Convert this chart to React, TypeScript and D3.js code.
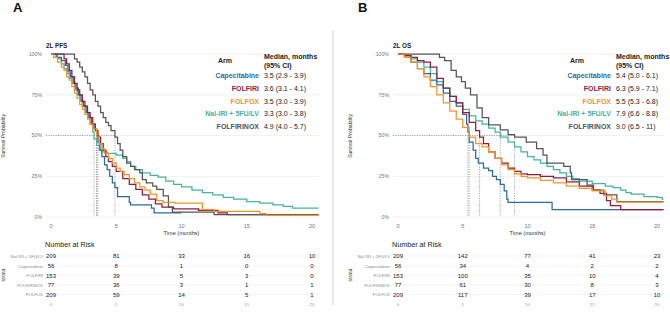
import React from 'react';
import * as d3 from 'd3';

type Pt = [number, number];

// arms, in the order the risk table lists them
const arms = ['Nal-IRI + 5FU/LV', 'Capecitabine', 'FOLFIRI', 'FOLFIRINOX', 'FOLFOX'];
const legendOrder = ['Capecitabine', 'FOLFIRI', 'FOLFOX', 'Nal-IRI + 5FU/LV', 'FOLFIRINOX'];
const armColors: Record<string, string> = {
  Capecitabine: '#2e6a9c',
  FOLFIRI: '#941b3d',
  FOLFOX: '#f0952c',
  'Nal-IRI + 5FU/LV': '#46b49f',
  FOLFIRINOX: '#555555',
};

const riskTimes = [0, 5, 10, 15, 20];
const yTicks = [0, 0.25, 0.5, 0.75, 1];

// 2L PFS
const pfsNalIri: Pt[] = [[0, 1], [0.5, 0.97], [0.8, 0.94], [1.0, 0.91], [1.2, 0.88], [1.4, 0.85], [1.6, 0.82], [1.8, 0.78], [2.0, 0.75], [2.2, 0.72], [2.4, 0.68], [2.6, 0.65], [2.8, 0.62], [3.0, 0.57], [3.2, 0.52], [3.3, 0.48], [3.5, 0.44], [3.7, 0.41], [3.9, 0.4], [4.3, 0.39], [5.0, 0.38], [5.5, 0.36], [5.8, 0.34], [6.1, 0.31], [6.5, 0.29], [7.0, 0.27], [7.6, 0.255], [8.2, 0.245], [8.8, 0.22], [9.4, 0.2], [10.0, 0.185], [10.8, 0.165], [11.6, 0.15], [12.4, 0.135], [13.2, 0.12], [14.0, 0.11], [15.0, 0.095], [16.0, 0.085], [17.0, 0.075], [17.8, 0.065], [18.5, 0.055], [20.5, 0.055]];
const pfsCapecitabine: Pt[] = [[0, 1], [0.4, 0.98], [0.8, 0.96], [1.1, 0.93], [1.3, 0.89], [1.5, 0.86], [1.7, 0.82], [1.9, 0.79], [2.1, 0.75], [2.3, 0.71], [2.5, 0.68], [2.7, 0.64], [2.9, 0.61], [3.1, 0.57], [3.3, 0.54], [3.5, 0.5], [3.6, 0.46], [3.75, 0.41], [3.9, 0.37], [4.1, 0.32], [4.3, 0.29], [4.5, 0.25], [4.7, 0.21], [4.9, 0.18], [5.1, 0.125], [6.0, 0.09], [6.1, 0.075], [7.7, 0.055], [7.9, 0.025], [10.0, 0.025]];
const pfsFolfiri: Pt[] = [[0, 1], [0.8, 1], [1.0, 0.97], [1.2, 0.94], [1.4, 0.9], [1.6, 0.86], [1.8, 0.82], [2.0, 0.78], [2.2, 0.75], [2.4, 0.71], [2.6, 0.68], [2.8, 0.64], [3.0, 0.61], [3.2, 0.57], [3.4, 0.53], [3.6, 0.49], [3.8, 0.45], [4.0, 0.41], [4.2, 0.37], [4.4, 0.34], [4.7, 0.31], [5.0, 0.28], [5.5, 0.235], [6.0, 0.2], [6.5, 0.17], [7.0, 0.135], [7.5, 0.11], [8.0, 0.08], [8.5, 0.06], [9.4, 0.05], [11.3, 0.04], [12.8, 0.025], [13.5, 0.015], [20.5, 0.015]];
const pfsFolfirinox: Pt[] = [[0, 1], [1.7, 1], [1.8, 0.97], [2.0, 0.95], [2.2, 0.92], [2.4, 0.89], [2.6, 0.86], [2.8, 0.82], [3.0, 0.78], [3.2, 0.75], [3.4, 0.71], [3.6, 0.68], [3.8, 0.64], [4.0, 0.61], [4.2, 0.58], [4.4, 0.56], [4.6, 0.53], [4.9, 0.49], [5.1, 0.45], [5.3, 0.41], [5.5, 0.37], [5.8, 0.33], [6.1, 0.31], [6.4, 0.29], [6.8, 0.27], [7.0, 0.23], [7.3, 0.21], [7.8, 0.19], [8.1, 0.17], [8.6, 0.13], [9.0, 0.06], [9.3, 0.03], [12.5, 0.015], [20.5, 0.015]];
const pfsFolfox: Pt[] = [[0, 1], [0.2, 0.98], [0.5, 0.95], [0.8, 0.92], [1.0, 0.9], [1.2, 0.86], [1.4, 0.84], [1.6, 0.8], [1.8, 0.76], [2.0, 0.73], [2.2, 0.69], [2.4, 0.66], [2.6, 0.63], [2.8, 0.6], [3.0, 0.57], [3.2, 0.54], [3.5, 0.49], [3.7, 0.45], [3.9, 0.42], [4.1, 0.39], [4.4, 0.36], [4.7, 0.33], [5.0, 0.3], [5.3, 0.28], [5.6, 0.26], [6.0, 0.235], [6.4, 0.21], [6.8, 0.185], [7.2, 0.165], [7.6, 0.14], [8.1, 0.1], [8.6, 0.09], [9.5, 0.085], [11.6, 0.045], [12.5, 0.035], [16.0, 0.02], [16.5, 0.01], [20.5, 0.01]];

// 2L OS
const osNalIri: Pt[] = [[0, 1], [0.5, 0.99], [1.0, 0.97], [1.5, 0.95], [2.0, 0.92], [2.5, 0.88], [3.0, 0.83], [3.5, 0.79], [4.0, 0.74], [4.5, 0.7], [5.0, 0.66], [5.5, 0.62], [6.0, 0.59], [6.5, 0.57], [7.0, 0.545], [7.5, 0.52], [7.9, 0.49], [8.5, 0.46], [9.0, 0.43], [9.5, 0.4], [10.0, 0.37], [10.5, 0.35], [11.0, 0.33], [11.5, 0.31], [12.0, 0.29], [12.5, 0.27], [13.0, 0.25], [13.5, 0.235], [14.0, 0.22], [15.0, 0.205], [16.0, 0.19], [16.6, 0.18], [17.2, 0.165], [17.6, 0.15], [18.0, 0.14], [19.0, 0.125], [20.0, 0.12], [20.4, 0.11], [20.5, 0.11]];
const osCapecitabine: Pt[] = [[0, 1], [0.5, 0.98], [1.0, 0.95], [1.5, 0.91], [2.0, 0.88], [2.5, 0.84], [3.0, 0.81], [3.5, 0.76], [4.0, 0.71], [4.5, 0.68], [5.0, 0.63], [5.3, 0.57], [5.4, 0.52], [5.5, 0.46], [5.8, 0.41], [6.0, 0.36], [6.2, 0.33], [6.6, 0.3], [7.0, 0.285], [7.3, 0.25], [7.6, 0.23], [7.9, 0.2], [8.2, 0.16], [8.4, 0.11], [8.5, 0.09], [11.9, 0.045], [20.5, 0.045]];
const osFolfiri: Pt[] = [[0, 1], [0.5, 0.99], [1.0, 0.98], [1.5, 0.96], [2.0, 0.95], [2.5, 0.92], [3.0, 0.85], [3.5, 0.79], [4.0, 0.74], [4.5, 0.7], [5.0, 0.64], [5.5, 0.58], [6.0, 0.53], [6.3, 0.49], [6.6, 0.45], [7.0, 0.4], [7.5, 0.36], [8.0, 0.33], [8.5, 0.3], [9.0, 0.28], [9.5, 0.265], [10.0, 0.26], [11.0, 0.25], [12.0, 0.24], [13.0, 0.215], [14.0, 0.19], [15.0, 0.165], [15.6, 0.145], [16.1, 0.1], [16.4, 0.07], [17.2, 0.045], [20.5, 0.045]];
const osFolfirinox: Pt[] = [[0, 1], [2.9, 1], [3.2, 0.98], [3.6, 0.96], [4.1, 0.9], [4.5, 0.86], [4.9, 0.83], [5.2, 0.79], [5.6, 0.75], [6.1, 0.67], [6.5, 0.61], [7.0, 0.565], [7.9, 0.535], [8.5, 0.505], [9.0, 0.49], [9.9, 0.46], [10.7, 0.42], [11.2, 0.38], [11.5, 0.33], [12.8, 0.31], [13.3, 0.27], [13.4, 0.23], [14.6, 0.195], [15.1, 0.165], [15.9, 0.135], [16.9, 0.094], [20.5, 0.094]];
const osFolfox: Pt[] = [[0, 1], [0.5, 0.98], [1.0, 0.95], [1.5, 0.91], [2.0, 0.86], [2.5, 0.8], [3.0, 0.75], [3.5, 0.7], [4.0, 0.65], [4.5, 0.6], [5.0, 0.55], [5.5, 0.49], [6.0, 0.45], [6.5, 0.43], [7.0, 0.4], [7.5, 0.36], [8.0, 0.32], [8.5, 0.29], [9.0, 0.265], [9.5, 0.25], [10.0, 0.24], [11.0, 0.225], [12.0, 0.21], [13.0, 0.19], [14.0, 0.175], [15.0, 0.16], [16.0, 0.13], [16.5, 0.11], [16.9, 0.092], [20.5, 0.092]];

// medians [arm, median, lower, upper]
const pfsMedians: [string, string][] = [['Capecitabine', '3.5 (2.9 - 3.9)'], ['FOLFIRI', '3.6 (3.1 - 4.1)'], ['FOLFOX', '3.5 (3.0 - 3.9)'], ['Nal-IRI + 5FU/LV', '3.3 (3.0 - 3.8)'], ['FOLFIRINOX', '4.9 (4.0 - 5.7)']];
const osMedians: [string, string][] = [['Capecitabine', '5.4 (5.0 - 6.1)'], ['FOLFIRI', '6.3 (5.9 - 7.1)'], ['FOLFOX', '5.5 (5.3 - 6.8)'], ['Nal-IRI + 5FU/LV', '7.9 (6.6 - 8.8)'], ['FOLFIRINOX', '9.0 (6.5 - 11)']];
const pfsMedianTimes = [3.5, 3.6, 3.5, 3.3, 4.9];
const osMedianTimes = [5.4, 6.3, 5.5, 7.9, 9.0];

// number at risk, rows follow `arms`
const pfsRisk = [[209, 81, 33, 16, 10], [56, 8, 1, 0, 0], [153, 39, 5, 3, 0], [77, 36, 3, 1, 1], [209, 59, 14, 5, 1]];
const osRisk = [[209, 142, 77, 41, 23], [56, 34, 4, 2, 2], [153, 100, 35, 10, 4], [77, 61, 30, 8, 3], [209, 117, 39, 17, 10]];

const FONT = '"Liberation Sans", Arial, Helvetica, sans-serif';

interface PanelProps {
  tag: string;
  title: string;
  left: number; // x of time 0
  right: number; // x of time 20
  tagX: number;
  curves: Pt[][]; // order of `arms`
  medians: [string, string][];
  medianTimes: number[];
  risk: number[][];
  armX: number;
}

function Panel(p: PanelProps) {
  const x = d3.scaleLinear().domain([0, 20]).range([p.left, p.right]);
  const y = d3.scaleLinear().domain([0, 1]).range([217, 54]);
  const line = d3
    .line<Pt>()
    .x((d) => x(d[0]))
    .y((d) => y(d[1]))
    .curve(d3.curveStepAfter);
  const gx0 = x(0) - 5;
  const gx1 = x(20.6);
  const maxMed = d3.max(p.medianTimes) as number;
  const nameX = p.armX + 41;
  const valX = nameX + 5;
  const legendRowY = [76, 88.7, 101.3, 114, 126.7];
  const riskY = [256, 266, 275.5, 285, 294.5];

  return (
    <g fontFamily={FONT}>
      <text x={p.tagX} y={12} fontSize={13} fontWeight="bold" fill="#111">{p.tag}</text>
      <text x={x(0) - 5} y={47.5} fontSize={6.3} fontWeight="bold" fill="#222">{p.title}</text>
      {/* horizontal grid */}
      {yTicks.map((t) => (
        <g key={t}>
          <line x1={gx0} x2={gx1} y1={y(t)} y2={y(t)} stroke="#ebebeb" strokeWidth={0.7} />
          <text x={x(0) - 9} y={y(t)} dy="0.35em" textAnchor="end" fontSize={5.2} fill="#777">
            {`${Math.round(t * 100)}%`}
          </text>
        </g>
      ))}
      {riskTimes.map((t) => (
        <text key={t} x={x(t)} y={228} textAnchor="middle" fontSize={5.6} fill="#777">{t}</text>
      ))}
      <text x={(x(0) + x(20)) / 2} y={234.5} textAnchor="middle" fontSize={5.6} fill="#333">Time (months)</text>
      <text transform={`translate(${p.left - 46},136) rotate(-90)`} textAnchor="middle" fontSize={5.2} fill="#333">Survival Probability</text>

      {/* median reference lines */}
      <line x1={gx0} x2={x(maxMed)} y1={y(0.5)} y2={y(0.5)} stroke="#888" strokeWidth={0.8} strokeDasharray="1,1.4" />
      {p.medianTimes.map((m, i) => (
        <line key={i} x1={x(m)} x2={x(m)} y1={y(0.5)} y2={y(0)} stroke="#888" strokeWidth={0.8} strokeDasharray="1,1.4" />
      ))}

      {/* survival curves */}
      {p.curves.map((c, i) => (
        <path key={arms[i]} d={line(c) || ''} fill="none" stroke={armColors[arms[i]]} strokeWidth={1.25} />
      ))}

      {/* median table */}
      <text x={p.armX} y={61} dy="0.35em" fontSize={7} fontWeight="bold" fill="#222">Arm</text>
      <text x={valX} y={57} dy="0.35em" fontSize={7} fontWeight="bold" fill="#222">Median, months</text>
      <text x={valX} y={66} dy="0.35em" fontSize={7} fontWeight="bold" fill="#222">(95% CI)</text>
      {p.medians.map(([arm, v], i) => (
        <g key={arm}>
          <text x={nameX} y={legendRowY[i]} dy="0.35em" textAnchor="end" fontSize={7} fontWeight="bold" fill={armColors[arm]}>{arm}</text>
          <text x={valX} y={legendRowY[i]} dy="0.35em" fontSize={7} fill="#222">{v}</text>
        </g>
      ))}

      {/* number at risk */}
      <text x={x(0) - 6} y={244} dy="0.35em" fontSize={7.2} fill="#222">Number at Risk</text>
      <text transform={`translate(${p.left - 46},275) rotate(-90)`} textAnchor="middle" fontSize={5.2} fill="#333">strata</text>
      {arms.map((arm, r) => (
        <g key={arm}>
          <line x1={gx0} x2={gx1} y1={riskY[r]} y2={riskY[r]} stroke="#efefef" strokeWidth={0.6} />
          <text x={x(0) - 8} y={riskY[r]} dy="0.35em" textAnchor="end" fontSize={4.3} fill="#888">{arm}</text>
          {p.risk[r].map((n, j) => (
            <text key={j} x={x(riskTimes[j])} y={riskY[r]} dy="0.35em" textAnchor="middle" fontSize={6} fill="#222">{n}</text>
          ))}
        </g>
      ))}
      {riskTimes.map((t) => (
        <text key={t} x={x(t)} y={304} dy="0.35em" textAnchor="middle" fontSize={4.3} fill="#999">{t}</text>
      ))}
    </g>
  );
}

export default function App() {
  return (
    <svg width={670} height={314} style={{ position: 'absolute', left: 0, top: 0, background: '#fff' }}>
      <rect width={670} height={314} fill="#fff" />
      <Panel
        tag="A"
        title="2L PFS"
        left={51}
        right={312}
        tagX={13}
        curves={[pfsNalIri, pfsCapecitabine, pfsFolfiri, pfsFolfirinox, pfsFolfox]}
        medians={pfsMedians}
        medianTimes={pfsMedianTimes}
        risk={pfsRisk}
        armX={218}
      />
      <line x1={333} x2={333} y1={30} y2={305} stroke="#c8c8c8" strokeWidth={0.8} />
      <Panel
        tag="B"
        title="2L OS"
        left={398}
        right={657}
        tagX={358}
        curves={[osNalIri, osCapecitabine, osFolfiri, osFolfirinox, osFolfox]}
        medians={osMedians}
        medianTimes={osMedianTimes}
        risk={osRisk}
        armX={570}
      />
    </svg>
  );
}
